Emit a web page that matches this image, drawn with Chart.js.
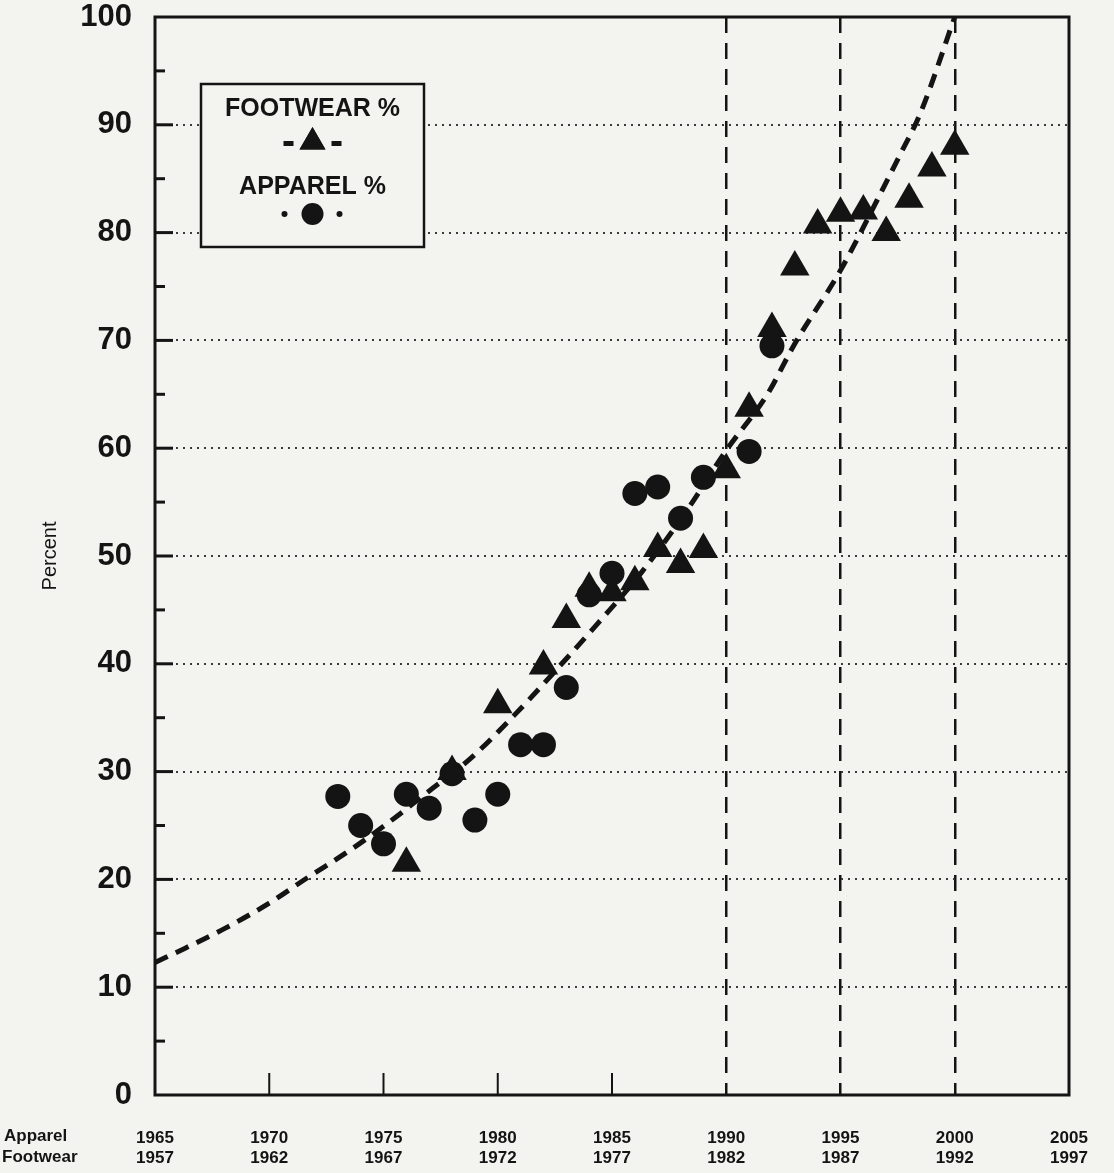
<!DOCTYPE html>
<html>
<head>
<meta charset="utf-8">
<script src="https://cdn.jsdelivr.net/npm/chart.js@4.4.1/dist/chart.umd.min.js"></script>
<style>
  html, body { margin: 0; padding: 0; background: #f3f3ef; }
  #wrap { width: 1114px; height: 1173px; position: relative; }
</style>
</head>
<body>
<div id="wrap"><canvas id="c" width="1114" height="1173"></canvas></div>
<script>
// ---------- DATA ----------
// x-axis tick labels (two rows: apparel years / footwear years)
const apparelTickYears  = [1965, 1970, 1975, 1980, 1985, 1990, 1995, 2000, 2005];
const footwearTickYears = [1957, 1962, 1967, 1972, 1977, 1982, 1987, 1992, 1997];
const referenceYears = [1990, 1995, 2000];           // dashed vertical lines
const yTicks = [0, 10, 20, 30, 40, 50, 60, 70, 80, 90, 100];

// Footwear % (x given on the apparel-year axis)
const footwearX   = [1976, 1978, 1980, 1982, 1983, 1984, 1985, 1986, 1987, 1988, 1989, 1990, 1991, 1992, 1993, 1994, 1995, 1996, 1997, 1998, 1999, 2000];
const footwearPct = [21.5, 30.0, 36.2, 39.8, 44.1, 47.0, 46.6, 47.6, 50.7, 49.2, 50.6, 58.0, 63.7, 71.1, 76.8, 80.7, 81.8, 82.0, 80.0, 83.1, 86.0, 88.0];

// Apparel %
const apparelX   = [1973, 1974, 1975, 1976, 1977, 1978, 1979, 1980, 1981, 1982, 1983, 1984, 1985, 1986, 1987, 1988, 1989, 1991, 1992];
const apparelPct = [27.7, 25.0, 23.3, 27.9, 26.6, 29.8, 25.5, 27.9, 32.5, 32.5, 37.8, 46.4, 48.4, 55.8, 56.4, 53.5, 57.3, 59.7, 69.5];

// Dashed trend curve
const trendX   = [1965, 1966.3, 1968.1, 1970, 1971.7, 1973.6, 1975.3, 1977, 1978.8, 1980.8, 1982.8, 1984.4, 1986.3, 1988.3, 1990, 1991.8, 1993, 1995, 1996.6, 1997.6, 1998.5, 2000];
const trendPct = [12.3, 13.6, 15.5, 17.8, 20.2, 22.8, 25.4, 28.2, 31.2, 35.4, 40.0, 43.8, 48.5, 54.3, 59.8, 65.0, 69.7, 76.5, 83.0, 87.2, 91.1, 100];

// ---------- STYLE ----------
const BG = '#f3f3ef';
const INK = '#141414';
const FONT = "'Liberation Sans', Arial, Helvetica, sans-serif";
const X_FONT = { family: FONT, size: 17, weight: 'bold', lineHeight: 1.2 };
const X_PAD = 33;

const toPts = (xs, ys) => xs.map((v, i) => ({ x: v, y: ys[i] }));

const decor = {
  id: 'decor',
  beforeDraw(chart) {
    const { ctx, width, height } = chart;
    ctx.save();
    ctx.fillStyle = BG;
    ctx.fillRect(0, 0, width, height);
    ctx.restore();
  },
  afterDraw(chart) {
    const { ctx, chartArea: a, scales } = chart;
    const x = scales.x, y = scales.y;
    const line = (x1, y1, x2, y2) => { ctx.beginPath(); ctx.moveTo(x1, y1); ctx.lineTo(x2, y2); ctx.stroke(); };
    ctx.save();
    ctx.strokeStyle = INK;
    ctx.lineCap = 'butt';
    // frame
    ctx.lineWidth = 3;
    ctx.strokeRect(a.left, a.top, a.right - a.left, a.bottom - a.top);
    // inward y ticks (major every 10, minor at 5)
    for (let i = 0; i < yTicks.length - 1; i++) {
      const v0 = yTicks[i], v1 = yTicks[i + 1];
      if (i > 0) line(a.left, y.getPixelForValue(v0), a.left + 18, y.getPixelForValue(v0));
      const mid = y.getPixelForValue((v0 + v1) / 2);
      line(a.left, mid, a.left + 10, mid);
    }
    // inward x ticks
    ctx.lineWidth = 2;
    apparelTickYears.forEach(v => {
      if (v === apparelTickYears[0] || v === apparelTickYears[apparelTickYears.length - 1]) return;
      if (referenceYears.includes(v)) return;
      const px = x.getPixelForValue(v);
      line(px, a.bottom, px, a.bottom - 22);
    });
    // row names for the x labels
    ctx.fillStyle = INK;
    ctx.font = `bold ${X_FONT.size}px ${FONT}`;
    ctx.textAlign = 'left';
    ctx.textBaseline = 'top';
    const lh = X_FONT.size * X_FONT.lineHeight;
    ctx.fillText('Apparel', 4, x.top + X_PAD);
    ctx.fillText('Footwear', 2, x.top + X_PAD + lh);

    // legend box
    const L = { l: 201, t: 84, r: 424, b: 247 };
    ctx.fillStyle = BG;
    ctx.fillRect(L.l, L.t, L.r - L.l, L.b - L.t);
    ctx.lineWidth = 2.5;
    ctx.strokeRect(L.l, L.t, L.r - L.l, L.b - L.t);
    const cx = (L.l + L.r) / 2;
    ctx.fillStyle = INK;
    ctx.font = `bold 25px ${FONT}`;
    ctx.textAlign = 'center';
    ctx.textBaseline = 'middle';
    ctx.fillText('FOOTWEAR %', cx, 109);
    ctx.fillText('APPAREL %', cx, 187);
    Chart.helpers.drawPoint(ctx, { pointStyle: 'triangle', radius: 15, borderWidth: 0 }, cx, 142);
    ctx.fill();
    ctx.fillRect(cx - 29, 141, 10, 5);
    ctx.fillRect(cx + 19, 141, 10, 5);
    ctx.beginPath(); ctx.arc(cx, 214, 11, 0, Math.PI * 2); ctx.fill();
    ctx.beginPath(); ctx.arc(cx - 28, 214, 3, 0, Math.PI * 2); ctx.fill();
    ctx.beginPath(); ctx.arc(cx + 27, 214, 3, 0, Math.PI * 2); ctx.fill();
    ctx.restore();
  }
};

new Chart(document.getElementById('c'), {
  type: 'scatter',
  data: {
    datasets: [
      {
        label: 'FOOTWEAR %',
        data: toPts(footwearX, footwearPct),
        pointStyle: 'triangle',
        pointRadius: 17,
        pointBackgroundColor: INK,
        pointBorderWidth: 0,
        showLine: false
      },
      {
        label: 'APPAREL %',
        data: toPts(apparelX, apparelPct),
        pointStyle: 'circle',
        pointRadius: 12.5,
        pointBackgroundColor: INK,
        pointBorderWidth: 0,
        showLine: false
      },
      {
        label: 'trend',
        data: toPts(trendX, trendPct),
        showLine: true,
        borderColor: INK,
        borderWidth: 5,
        borderDash: [14, 9],
        cubicInterpolationMode: 'monotone',
        pointRadius: 0,
        fill: false
      }
    ]
  },
  options: {
    responsive: false,
    animation: false,
    devicePixelRatio: 1,
    layout: { padding: { top: 15, right: 45, bottom: 0, left: 0 } },
    plugins: { legend: { display: false }, tooltip: { enabled: false } },
    scales: {
      x: {
        type: 'linear',
        min: apparelTickYears[0],
        max: apparelTickYears[apparelTickYears.length - 1],
        afterBuildTicks: s => { s.ticks = apparelTickYears.map(v => ({ value: v })); },
        afterFit: s => { s.height = 1173 - 1095; s.paddingLeft = 0; s.paddingRight = 0; },
        ticks: {
          autoSkip: false,
          maxRotation: 0,
          padding: X_PAD,
          color: INK,
          font: X_FONT,
          callback: v => {
            const i = apparelTickYears.indexOf(v);
            return i < 0 ? '' : [String(apparelTickYears[i]), String(footwearTickYears[i])];
          }
        },
        grid: {
          drawTicks: false,
          lineWidth: 2.5,
          color: c => (c.tick && referenceYears.includes(c.tick.value)) ? INK : 'rgba(0,0,0,0)'
        },
        border: { display: false, dash: [16, 10] }
      },
      y: {
        min: yTicks[0],
        max: yTicks[yTicks.length - 1],
        afterBuildTicks: s => { s.ticks = yTicks.map(v => ({ value: v })); },
        afterFit: s => { s.width = 155; s.paddingTop = 0; s.paddingBottom = 0; },
        ticks: {
          padding: 23,
          color: INK,
          font: { family: FONT, size: 31, weight: 'bold' },
          callback: v => String(v)
        },
        title: {
          display: true,
          text: 'Percent',
          color: INK,
          font: { family: FONT, size: 20 },
          padding: { top: 38, bottom: 0 }
        },
        grid: {
          drawTicks: false,
          lineWidth: 2,
          color: c => (c.tick && c.tick.value > yTicks[0] && c.tick.value < yTicks[yTicks.length - 1]) ? '#3a3a3a' : 'rgba(0,0,0,0)'
        },
        border: { display: false, dash: [2, 5] }
      }
    }
  },
  plugins: [decor]
});
</script>
</body>
</html>
